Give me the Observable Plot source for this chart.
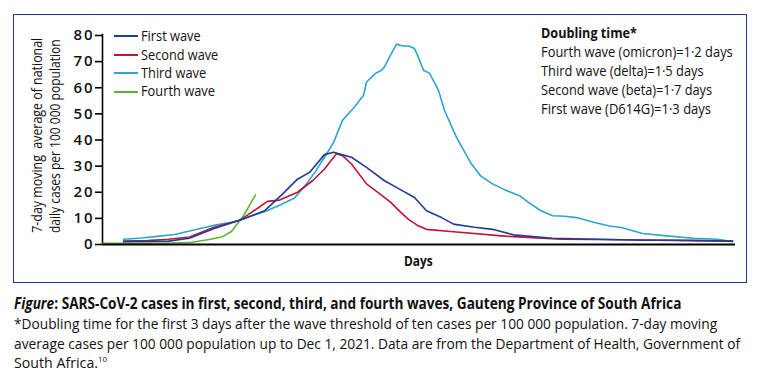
<!DOCTYPE html>
<html>
<head>
<meta charset="utf-8">
<script src="https://cdn.jsdelivr.net/npm/d3@7"></script>
<script src="https://cdn.jsdelivr.net/npm/@observablehq/plot@0.6"></script>
<style>
  html, body { margin: 0; padding: 0; background: #fff; }
  body { width: 759px; height: 372px; position: relative; overflow: hidden;
         font-family: "Open Sans", "Noto Sans", sans-serif; color: #111; }
  #frame { position: absolute; left: 13px; top: 14px; width: 732px; height: 267px; border: 1.6px solid #1d3a8c; }
  #chart { position: absolute; left: 0; top: 0; }
  .txt { position: absolute; white-space: nowrap; line-height: 1; transform-origin: left center; }
  .sw { position: absolute; width: 24px; height: 2px; }
</style>
</head>
<body>
<div id="frame"></div>
<div id="chart"></div>
<div id="texts"></div>
<script>
// ---- data (days since start of plotted window, 7-day avg cases per 100 000) ----
const seriesNames = ["First wave", "Second wave", "Third wave", "Fourth wave"];
const seriesColors = ["#1f3c98", "#c01530", "#2aa6cf", "#5bb52f"];

const firstDays   = [7, 15, 22, 29, 37, 46, 54, 60, 65, 69, 74, 77, 80, 83, 88, 94, 99, 104, 108, 113, 117, 124, 130, 137, 150, 165, 180, 195, 210];
const firstVals   = [1.1, 1.2, 1.3, 2.4, 6.0, 9.4, 12.9, 19.3, 25.0, 27.6, 34.4, 35.3, 34.3, 33.4, 29.5, 24.4, 21.2, 18.0, 12.9, 10.3, 7.8, 6.6, 5.8, 3.7, 2.4, 2.0, 1.6, 1.6, 1.3];

const secondDays  = [7, 15, 22, 29, 37, 46, 55, 59, 65, 70, 74, 78, 80, 83, 88, 92, 96, 99, 102, 105, 108, 117, 133, 137, 153, 175, 195, 210];
const secondVals  = [1.3, 1.5, 2.0, 2.9, 6.5, 9.4, 16.5, 17.0, 20.0, 24.4, 28.9, 34.7, 34.0, 30.8, 23.2, 19.8, 16.2, 12.8, 9.6, 7.3, 5.8, 4.9, 3.3, 3.0, 2.0, 1.8, 1.5, 1.3];

const thirdDays   = [7, 13, 19, 24, 29, 34, 38, 43, 46, 51, 54, 59, 64, 68, 71, 74, 77, 80, 84, 87, 88, 91, 93, 94, 96, 98, 100, 102, 104, 105, 107, 109, 112, 114, 118, 122, 123, 126, 130, 134, 139, 142, 146, 150, 154, 158, 164, 169, 173, 180, 188, 197, 205, 210];
const thirdVals   = [2.0, 2.5, 3.2, 3.8, 5.2, 6.5, 7.5, 8.5, 9.4, 11.5, 12.5, 15.0, 17.8, 23.2, 28.0, 33.4, 39.0, 47.5, 52.6, 57.1, 62.2, 65.5, 66.7, 68.0, 72.5, 76.7, 76.0, 76.0, 75.0, 72.5, 66.7, 65.6, 59.0, 51.3, 41.0, 32.8, 30.8, 26.3, 23.2, 21.0, 18.7, 16.1, 13.0, 11.0, 10.8, 10.3, 8.4, 7.1, 6.5, 4.2, 3.3, 2.4, 2.0, 1.1];

const fourthDays  = [0, 10, 20, 29, 36, 40, 43, 45, 47, 49, 51];
const fourthVals  = [0.5, 0.5, 0.5, 0.7, 2.0, 3.0, 5.0, 8.0, 11.0, 15.0, 19.0];

const yTicks = [0, 10, 20, 30, 40, 50, 60, 70, 80];
const xLabel = "Days";
const yLabelLines = ["7-day moving\u00a0 average of national", "daily cases per 100 000 population"];
const doublingTitle = "Doubling time*";
const doublingLines = ["Fourth wave (omicron)=1·2 days", "Third wave (delta)=1·5 days", "Second wave (beta)=1·7 days", "First wave (D614G)=1·3 days"];
const captionTitle = "SARS-CoV-2 cases in first, second, third, and fourth waves, Gauteng Province of South Africa";
const captionLines = [
  "*Doubling time for the first 3 days after the wave threshold of ten cases per 100 000 population. 7-day moving",
  "average cases per 100 000 population up to Dec 1, 2021. Data are from the Department of Health, Government of",
  "South Africa."
];

// ---- build table ----
const allDays = [firstDays, secondDays, thirdDays, fourthDays];
const allVals = [firstVals, secondVals, thirdVals, fourthVals];
const rows = [];
allDays.forEach((ds, i) => ds.forEach((d, j) => rows.push({series: seriesNames[i], day: d, value: allVals[i][j]})));
const order = ["Fourth wave", "Third wave", "Second wave", "First wave"];

const plot = Plot.plot({
  width: 759,
  height: 290,
  marginLeft: 102,
  marginRight: 24,
  marginTop: 35,
  marginBottom: 46,
  style: {fontFamily: '"Open Sans", "Noto Sans", sans-serif', background: "transparent"},
  x: {domain: [0, 211], axis: null},
  y: {domain: [0, 80], ticks: yTicks, label: null},
  color: {domain: seriesNames, range: seriesColors},
  marks: [
    Plot.axisY({ticks: yTicks, tickSize: 7, tickPadding: 3, fontSize: 15, fontWeight: 600, stroke: "#000", strokeWidth: 1.6, label: null, tickFormat: d => d + ""}),
    Plot.ruleX([0], {y1: 0, y2: 80.5, stroke: "#000", strokeWidth: 1.6}),
    ...order.map(s => Plot.line(rows.filter(r => r.series === s), {x: "day", y: "value", stroke: "series", strokeWidth: 1.6, curve: "linear"})),
    Plot.ruleY([0], {x1: 0, x2: 211, stroke: "#000", strokeWidth: 2})
  ]
});
document.getElementById("chart").appendChild(plot);
plot.querySelectorAll("g[aria-label='y-axis tick label'] text").forEach(t => t.setAttribute("textLength", "19"));

// ---- text helpers: place text at left x / center y, and fit to a target width ----
const host = document.getElementById("texts");
function addText(html, x, cy, size, weight, target, rotate) {
  const el = document.createElement("div");
  el.className = "txt";
  el.style.fontSize = size + "px";
  el.style.fontWeight = weight;
  el.innerHTML = html;
  host.appendChild(el);
  const w = el.offsetWidth, h = el.offsetHeight;
  const s = target / w;
  if (rotate) {
    el.style.transformOrigin = "center center";
    el.style.left = (x - w / 2) + "px";
    el.style.top = (cy - h / 2) + "px";
    el.style.transform = `rotate(-90deg) scaleX(${s})`;
  } else {
    el.style.left = x + "px";
    el.style.top = (cy - h / 2) + "px";
    el.style.transform = `scaleX(${s})`;
  }
  return el;
}

// y-axis label
addText(yLabelLines[0], 37, 135.5, 14.5, 500, 195, true);
addText(yLabelLines[1], 55, 136, 14.5, 500, 194, true);

// x label
addText(xLabel, 404, 261, 14, 700, 29);

// legend
const legWidths = [60, 77.3, 65.3, 74.3];
const legY = [36, 55, 73.3, 91.7];
seriesNames.forEach((n, i) => {
  const sw = document.createElement("div");
  sw.className = "sw";
  sw.style.left = "114px";
  sw.style.top = (legY[i] - 1) + "px";
  sw.style.background = seriesColors[i];
  host.appendChild(sw);
  addText(n, 141, legY[i], 14.5, 400, legWidths[i]);
});

// doubling time block
const dblY = [33.3, 52.3, 71.7, 90.7, 109.3];
const dblW = [95.7, 192, 163, 171, 169.7];
addText(doublingTitle, 541, dblY[0], 14.5, 700, dblW[0]);
doublingLines.forEach((t, i) => addText(t, 541, dblY[i + 1], 14.5, 400, dblW[i + 1]));

// caption
addText(`<i>Figure</i>: ${captionTitle}`, 13.5, 304, 15.5, 700, 667);
addText(captionLines[0], 13.5, 324.5, 14.5, 400, 703.5);
addText(captionLines[1], 13.5, 344, 14.5, 400, 726.5);
addText(`${captionLines[2]}<sup style="font-size:8px;vertical-align:6px">10</sup>`, 13.5, 363, 14.5, 400, 93);
</script>
</body>
</html>
